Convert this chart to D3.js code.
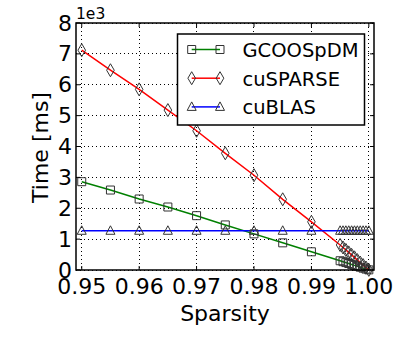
<!DOCTYPE html>
<html><head><meta charset="utf-8">
<script src="https://cdn.jsdelivr.net/npm/d3@7"></script>
<style>body{margin:0;background:#fff;} svg{display:block;font-family:"DejaVu Sans",sans-serif;}</style>
</head><body>
<svg id="c" width="399" height="339"></svg>
<script>
const sparsity = [0.95,0.955,0.96,0.965,0.97,0.975,0.98,0.985,0.99,0.995,0.9955,0.996,0.9965,0.997,0.9975,0.998,0.9985,0.999,0.9995,1.0];
const gcoospdm = [2860,2590,2300,2040,1760,1460,1170,880,590,300,270,240,210,180,150,120,90,60,30,5];
const cusparse = [7120,6470,5850,5180,4510,3780,3070,2290,1560,810,730,650,570,490,410,320,240,160,80,5];
const cublas = [1270,1270,1270,1270,1270,1270,1270,1270,1270,1270,1270,1270,1270,1270,1270,1270,1270,1270,1270,1270];
const seriesNames = ["GCOOSpDM","cuSPARSE","cuBLAS"];
const xTicks = [0.95,0.96,0.97,0.98,0.99,1.00];
const yTicks = [0,1000,2000,3000,4000,5000,6000,7000,8000];

const colors = ["#008000","#ff0000","#0000ff"];
const shapes = ["square","diamond","triangle"];
const svg = d3.select("#c");
const L=76,R=374,T=23,B=270;
const x = d3.scaleLinear().domain([0.949,1.0009]).range([L,R]);
const y = d3.scaleLinear().domain([0,8000]).range([B,T]);

const g = svg.append("g");
g.selectAll("line.gx").data(xTicks).join("line").attr("x1",d=>x(d)).attr("x2",d=>x(d)).attr("y1",T).attr("y2",B)
 .attr("stroke","#000").attr("stroke-width",1).attr("stroke-dasharray","1,3").attr("shape-rendering","crispEdges");
g.selectAll("line.gy").data(yTicks).join("line").attr("y1",d=>y(d)).attr("y2",d=>y(d)).attr("x1",L).attr("x2",R)
 .attr("stroke","#000").attr("stroke-width",1).attr("stroke-dasharray","1,3").attr("shape-rendering","crispEdges");

function markerPath(shape){
  if(shape==="square") return "M-4,-4h8v8h-8z";
  if(shape==="diamond") return "M0,-6.5L3.8,0L0,6.5L-3.8,0Z";
  return "M0,-5L4.5,3.5L-4.5,3.5Z";
}
const data = [gcoospdm,cusparse,cublas];
data.forEach((vals,i)=>{
  const pts = sparsity.map((s,j)=>[s,vals[j]]);
  svg.append("path").datum(pts).attr("fill","none").attr("stroke",colors[i]).attr("stroke-width",1.5)
    .attr("d",d3.line().x(d=>x(d[0])).y(d=>y(d[1])));
});
data.forEach((vals,i)=>{
  const pts = sparsity.map((s,j)=>[s,vals[j]]);
  svg.append("g").selectAll("path").data(pts).join("path")
    .attr("transform",d=>`translate(${x(d[0])},${y(d[1])})`)
    .attr("d",markerPath(shapes[i])).attr("fill","none").attr("stroke","#333").attr("stroke-width",1);
});

svg.append("rect").attr("x",L).attr("y",T).attr("width",R-L).attr("height",B-T).attr("fill","none").attr("stroke","#000").attr("stroke-width",1.5);
const tk = svg.append("g").attr("stroke","#000").attr("stroke-width",1);
xTicks.forEach(t=>{tk.append("line").attr("x1",x(t)).attr("x2",x(t)).attr("y1",B).attr("y2",B-4);
  tk.append("line").attr("x1",x(t)).attr("x2",x(t)).attr("y1",T).attr("y2",T+4);});
yTicks.forEach(t=>{tk.append("line").attr("y1",y(t)).attr("y2",y(t)).attr("x1",L).attr("x2",L+4);
  tk.append("line").attr("y1",y(t)).attr("y2",y(t)).attr("x1",R).attr("x2",R-4);});

svg.append("g").selectAll("text").data(xTicks).join("text").attr("x",d=>x(d)).attr("y",B+23.5)
 .attr("text-anchor","middle").style("font-size","22px").text(d=>d3.format(".2f")(d));
svg.append("g").selectAll("text").data(yTicks).join("text").attr("x",L-4).attr("y",d=>y(d)+7.5)
 .attr("text-anchor","end").style("font-size","22px").text(d=>d/1000);
svg.append("text").attr("x",L).attr("y",18.5).style("font-size","15.5px").text("1e3");
svg.append("text").attr("x",(L+R)/2).attr("y",321).attr("text-anchor","middle").style("font-size","22px").text("Sparsity");
svg.append("text").attr("transform",`translate(47.5,147.5) rotate(-90)`).attr("text-anchor","middle").style("font-size","22px").text("Time [ms]");

const lg = svg.append("g");
lg.append("rect").attr("x",177.5).attr("y",34).attr("width",187).attr("height",91).attr("fill","#fff").attr("stroke","#000").attr("stroke-width",1.5);
seriesNames.forEach((n,i)=>{
  const yy = 49.5 + i*28.7;
  lg.append("line").attr("x1",191.7).attr("x2",220).attr("y1",yy).attr("y2",yy).attr("stroke",colors[i]).attr("stroke-width",1.5);
  [191.7,220].forEach(xx=>lg.append("path").attr("transform",`translate(${xx},${yy})`).attr("d",markerPath(shapes[i])).attr("fill","none").attr("stroke","#333"));
  lg.append("text").attr("x",242.5).attr("y",yy+7.4).style("font-size","19.5px").text(n);
});
</script>
</body></html>
